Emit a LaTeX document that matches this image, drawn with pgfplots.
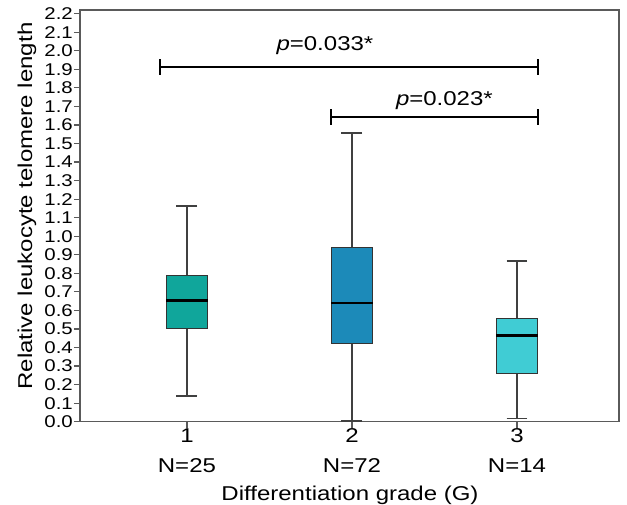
\documentclass[border=0pt]{standalone}
\usepackage{fontspec}
\setmainfont[FakeStretch=1.2]{Liberation Sans}
\usepackage{pgfplots}
\pgfplotsset{compat=1.18}
\usepgfplotslibrary{statistics}
\definecolor{gOne}{RGB}{16,166,155}
\definecolor{gTwo}{RGB}{28,138,185}
\definecolor{gThree}{RGB}{64,204,212}
\definecolor{axgray}{RGB}{90,90,90}

\begin{document}
\begin{tikzpicture}[x=1pt,y=1pt]
\path[use as bounding box] (0,0) rectangle (627,-505);
\begin{axis}[
  at={(80pt,-421.7pt)}, anchor=south west,
  width=539pt, height=411.7pt, scale only axis,
  xmin=0.352, xmax=3.618, ymin=0, ymax=2.22,
  xtick={1,2,3},
  xticklabels={{1\\N=25},{2\\N=72},{3\\N=14}},
  ytick={0,0.1,0.2,0.3,0.4,0.5,0.6,0.7,0.8,0.9,1.0,1.1,1.2,1.3,1.4,1.5,1.6,1.7,1.8,1.9,2.0,2.1,2.2},
  yticklabel style={/pgf/number format/fixed, /pgf/number format/fixed zerofill,
    /pgf/number format/precision=1, font=\fontsize{17}{17}\selectfont, inner sep=1pt},
  /pgf/number format/assume math mode=true,
  xticklabel style={align=center, font=\fontsize{20}{30}\selectfont, inner sep=1pt},
  tick align=outside, xtick pos=bottom, ytick pos=left,
  major tick length=6pt,
  axis line style={draw=axgray, line width=1.2pt},
  tick style={draw=axgray, line width=1.2pt},
  boxplot/draw direction=y,
  boxplot/every whisker/.style={draw=black!75, line width=1.5pt},
  boxplot/every median/.style={draw=black, line width=2.6pt},
  boxplot/box extend=0.25,
  boxplot/whisker extend=0.127,
  clip=false,
]
\addplot[draw=black!80, line width=1.2pt, fill=gOne,
  boxplot prepared={draw position=1, lower whisker=0.139, lower quartile=0.503,
    median=0.652, upper quartile=0.787, upper whisker=1.163}] coordinates {};
\addplot[draw=black!80, line width=1.2pt, fill=gTwo,
  boxplot prepared={draw position=2, lower whisker=0.005, lower quartile=0.423,
    median=0.641, upper quartile=0.938, upper whisker=1.556}] coordinates {};
\addplot[draw=black!80, line width=1.2pt, fill=gThree,
  boxplot prepared={draw position=3, lower whisker=0.018, lower quartile=0.261,
    median=0.464, upper quartile=0.557, upper whisker=0.866}] coordinates {};
% significance brackets
\draw[line width=2pt] (axis cs:0.836,1.914) -- (axis cs:3.127,1.914);
\draw[line width=2pt] (axis cs:0.836,1.871) -- (axis cs:0.836,1.957);
\draw[line width=2pt] (axis cs:3.127,1.871) -- (axis cs:3.127,1.957);
\draw[line width=2pt] (axis cs:1.871,1.644) -- (axis cs:3.127,1.644);
\draw[line width=2pt] (axis cs:1.871,1.601) -- (axis cs:1.871,1.687);
\draw[line width=2pt] (axis cs:3.127,1.601) -- (axis cs:3.127,1.687);
\node[font=\fontsize{20}{20}\selectfont] at (axis cs:1.836,2.03) {\textit{p}=0.033*};
\node[font=\fontsize{20}{20}\selectfont] at (axis cs:2.56,1.734) {\textit{p}=0.023*};
\end{axis}
\node[rotate=90, anchor=base, font=\fontsize{20}{20}\selectfont] at (32,-206) {Relative leukocyte telomere length};
\node[anchor=base, font=\fontsize{20}{20}\selectfont] at (350,-500) {Differentiation grade (G)};
\end{tikzpicture}
\end{document}
